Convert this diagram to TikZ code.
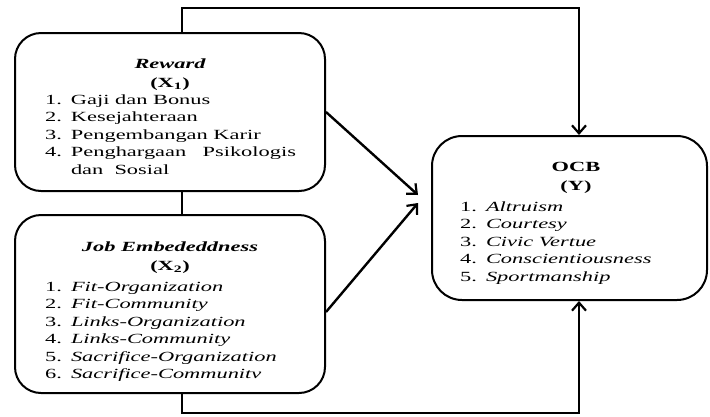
\documentclass[tikz,border=0pt]{standalone}
\usepackage{fontspec}
\setmainfont[FakeStretch=1.6]{Liberation Serif}
\usetikzlibrary{arrows.meta}
\newcommand{\lst}{\fontsize{14}{17.5}\selectfont}
\begin{document}
\begin{tikzpicture}[x=1pt,y=-1pt,
  box/.style={draw,line width=2pt,rounded corners=26pt,inner sep=0pt},
  conn/.style={line width=2.4pt},
  arr/.style={conn,-{Straight Barb[length=8pt,width=14pt,line width=2.2pt]}},
  ttl/.style={inner sep=0pt,anchor=base,font=\lst\bfseries},
  lstnode/.style={inner sep=0pt,anchor=north west,font=\lst}]
\useasboundingbox (0,0) rectangle (710,416);
% boxes
\node[box,minimum width=310pt,minimum height=158pt] (reward) at (170,112) {};
\node[box,minimum width=310pt,minimum height=178pt] (je) at (170,304) {};
\node[box,rounded corners=30pt,minimum width=275pt,minimum height=164pt] (ocb) at (569.5,218) {};
% coordinates
\coordinate (tl) at (182,8);
\coordinate (tr) at (579,8);
\coordinate (bl) at (182,413);
\coordinate (br) at (579,413);
\coordinate (tip1) at (418,195);
\coordinate (tip2) at (418,203);
% connectors
\draw[arr] (reward.north -| tl) -- (tl) -- (tr) -- (ocb.north -| tr);
\draw[arr] (je.south -| bl) -- (bl) -- (br) -- (ocb.south -| br);
\draw[conn] (reward.south -| tl) -- (je.north -| tl);
\draw[arr] (reward.east) -- (tip1);
\draw[arr] ([yshift=-8pt]je.east) -- (tip2);
% Reward text
\node[ttl] (rt) at (170,68) {\itshape Reward};
\node[ttl] (rx) at (170,87) {(X\textsubscript{1})};
\node[lstnode] (rl) at (45,91.75) {\begin{tabular}{@{}l@{\hspace{9pt}}l@{}}
1. & Gaji dan Bonus\\
2. & Kesejahteraan\\
3. & Pengembangan Karir\\
4. & \makebox[225pt][s]{Penghargaan Psikologis}\\
 & dan\ \ Sosial
\end{tabular}};
% JE text
\node[ttl] (jt) at (170,251) {\itshape Job Embededdness};
\node[ttl] (jx) at (170,270) {(X\textsubscript{2})};
\node[lstnode] (jl) at (45,278.75) {\begin{tabular}{@{}l@{\hspace{9pt}}l@{}}
1. & \textit{Fit-Organization}\\
2. & \textit{Fit-Community}\\
3. & \textit{Links-Organization}\\
4. & \textit{Links-Community}\\
5. & \textit{Sacrifice-Organization}\\
6. & \textit{Sacrifice-Communitv}
\end{tabular}};
% OCB text
\node[ttl] (ot) at (576,171) {OCB};
\node[ttl] (ox) at (576,190) {(Y)};
\node[lstnode] (ol) at (460,198.75) {\begin{tabular}{@{}l@{\hspace{9pt}}l@{}}
1. & \textit{Altruism}\\
2. & \textit{Courtesy}\\
3. & \textit{Civic Vertue}\\
4. & \textit{Conscientiousness}\\
5. & \textit{Sportmanship}
\end{tabular}};
\end{tikzpicture}
\end{document}
